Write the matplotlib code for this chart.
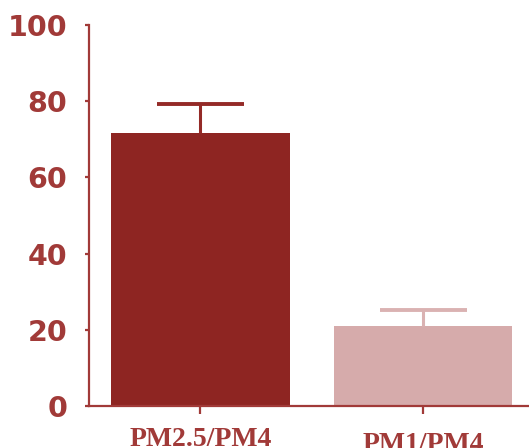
import matplotlib
matplotlib.use("Agg")
import matplotlib.pyplot as plt

categories = ["PM2.5/PM4", "PM1/PM4"]
values = [71.7, 21.0]
errors = [7.6, 4.2]
yticks = [0, 20, 40, 60, 80, 100]

bar_colors = ["#8e2522", "#d6abab"]
err_colors = ["#942a27", "#dab2b2"]
axis_color = "#a13a38"

fig = plt.figure(figsize=(5.29, 4.48), dpi=100)
ax = fig.add_axes([89/529, (448-406)/448, 1 - 89/529, (406-25)/448])

x = list(range(len(categories)))
ax.bar(x, values, width=0.80, color=bar_colors, zorder=2)
cap_half = 0.195
for xi, v, e, c in zip(x, values, errors, err_colors):
    ax.vlines(xi, v, v + e, colors=c, linewidth=2.2, zorder=3)
    ax.hlines(v + e, xi - cap_half, xi + cap_half, colors=c,
              linewidth=2.8, zorder=3)

ax.set_xlim(-0.5, 1.475)
ax.set_ylim(0, 100)
ax.set_yticks(yticks)
ax.set_xticks(x)
ax.set_xticklabels(categories)

for s in ["top", "right"]:
    ax.spines[s].set_visible(False)
for s in ["left", "bottom"]:
    ax.spines[s].set_color(axis_color)
    ax.spines[s].set_linewidth(1.6)

ax.tick_params(axis='y', direction='out', length=3, width=1.6,
               color=axis_color, labelcolor=axis_color, pad=12.5)
ax.tick_params(axis='x', direction='out', length=6, width=1.6,
               color=axis_color, labelcolor=axis_color, pad=9)

for lab in ax.get_yticklabels():
    lab.set_fontfamily("DejaVu Sans")
    lab.set_fontweight("bold")
    lab.set_fontsize(20.5)
for lab in ax.get_xticklabels():
    lab.set_fontfamily("Liberation Serif")
    lab.set_fontweight("bold")
    lab.set_fontsize(20)

ax.xaxis.get_major_ticks()[1].set_pad(13)

fig.savefig("out.png", dpi=100)
